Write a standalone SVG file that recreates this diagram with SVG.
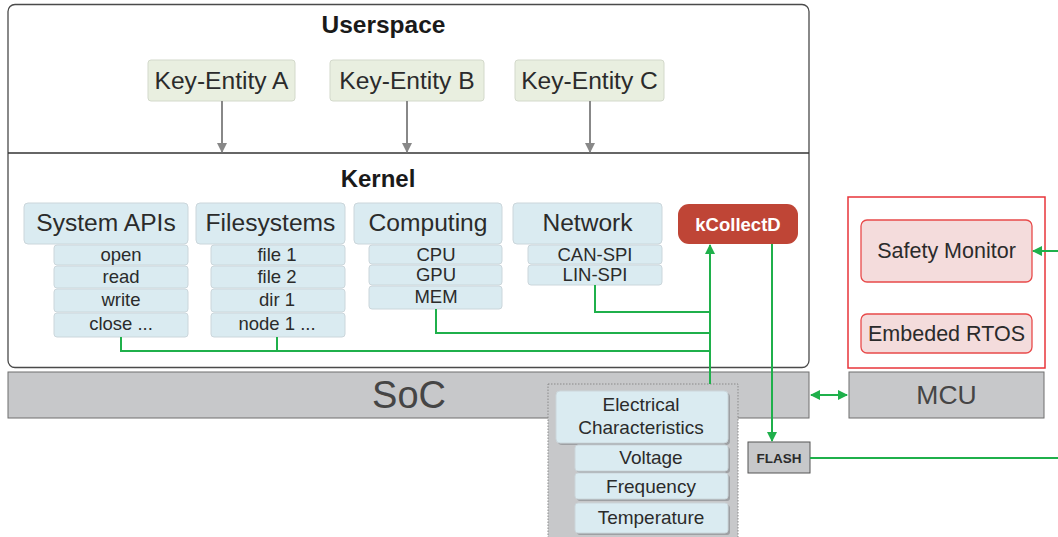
<svg xmlns="http://www.w3.org/2000/svg" width="1058" height="537" viewBox="0 0 1058 537">
<style>
text{font-family:"Liberation Sans",Arial,sans-serif;fill:#2b2b2b}
.ke{fill:#e9efe0;stroke:#d3d9cb;stroke-width:1}
.kb{fill:#daebf1;stroke:#cbd6db;stroke-width:1}
.hd{font-size:24.6px;text-anchor:middle}
.it{font-size:18.5px;text-anchor:middle}
.g{fill:none;stroke:#1fb04b;stroke-width:2}
.gr{fill:none;stroke:#888;stroke-width:2}
.gray{fill:#c7c8ca;stroke:#6f6f6f;stroke-width:1}
.ec{fill:#daebf1;stroke:#cbd6db;stroke-width:1}
.sh{fill:#9ea0a3}
.et{font-size:19px;text-anchor:middle}
</style>
<defs>
<marker id="ag" viewBox="0 0 10 10" refX="9" refY="5" markerWidth="5" markerHeight="5" orient="auto-start-reverse"><path d="M0,0L10,5L0,10z" fill="#1fb04b"/></marker>
<marker id="aw" viewBox="0 0 10 10" refX="9" refY="5" markerWidth="5" markerHeight="5" orient="auto"><path d="M0,0L10,5L0,10z" fill="#888"/></marker>
</defs>
<rect width="1058" height="537" fill="#fff"/>

<g id="os-box">
<rect x="8" y="4.5" width="801" height="363" rx="7" fill="#fff" stroke="#4a4a4a" stroke-width="1.3"/>
<line x1="8" y1="153" x2="809" y2="153" stroke="#333" stroke-width="1.5"/>
<text x="383.5" y="33" font-size="24.5" font-weight="bold" text-anchor="middle" style="fill:#1a1a1a">Userspace</text>
<text x="378" y="187" font-size="24" font-weight="bold" text-anchor="middle" style="fill:#1a1a1a">Kernel</text>
</g>

<g id="key-entity-a"><rect class="ke" x="148" y="60" width="147" height="41" rx="3"/><text class="hd" x="221.5" y="89" font-size="25">Key-Entity A</text></g>
<g id="key-entity-b"><rect class="ke" x="330" y="60" width="154" height="41" rx="3"/><text class="hd" x="407" y="89">Key-Entity B</text></g>
<g id="key-entity-c"><rect class="ke" x="515" y="60" width="149" height="41" rx="3"/><text class="hd" x="589.5" y="89">Key-Entity C</text></g>

<g id="system-apis">
<rect class="kb" x="24" y="203" width="164" height="41" rx="4"/><text class="hd" x="106" y="231">System APIs</text>
<rect class="kb" x="54" y="245" width="134" height="20" rx="3"/><text class="it" x="121" y="261">open</text>
<rect class="kb" x="54" y="266" width="134" height="22" rx="3"/><text class="it" x="121" y="283">read</text>
<rect class="kb" x="54" y="289" width="134" height="23" rx="3"/><text class="it" x="121" y="306">write</text>
<rect class="kb" x="54" y="313" width="134" height="24" rx="3"/><text class="it" x="121" y="330">close ...</text>
</g>
<g id="filesystems">
<rect class="kb" x="196" y="203" width="149" height="41" rx="4"/><text class="hd" x="270.5" y="231">Filesystems</text>
<rect class="kb" x="211" y="245" width="134" height="20" rx="3"/><text class="it" x="277" y="261">file 1</text>
<rect class="kb" x="211" y="266" width="134" height="22" rx="3"/><text class="it" x="277" y="283">file 2</text>
<rect class="kb" x="211" y="289" width="134" height="23" rx="3"/><text class="it" x="277" y="306">dir 1</text>
<rect class="kb" x="211" y="313" width="134" height="24" rx="3"/><text class="it" x="277" y="330">node 1 ...</text>
</g>
<g id="computing">
<rect class="kb" x="354" y="203" width="148" height="41" rx="4"/><text class="hd" x="428" y="231">Computing</text>
<rect class="kb" x="369" y="245" width="133" height="19" rx="3"/><text class="it" x="436" y="261">CPU</text>
<rect class="kb" x="369" y="265" width="133" height="20" rx="3"/><text class="it" x="436" y="281">GPU</text>
<rect class="kb" x="369" y="286" width="133" height="23" rx="3"/><text class="it" x="436" y="303">MEM</text>
</g>
<g id="network">
<rect class="kb" x="513" y="203" width="149" height="41" rx="4"/><text class="hd" x="587.5" y="231">Network</text>
<rect class="kb" x="528" y="245" width="134" height="19" rx="3"/><text class="it" x="595" y="261">CAN-SPI</text>
<rect class="kb" x="528" y="265" width="134" height="20" rx="3"/><text class="it" x="595" y="281">LIN-SPI</text>
</g>
<g id="kcollectd">
<rect x="678" y="204" width="120" height="40" rx="11" fill="#bf4536"/>
<text x="738" y="231" font-size="18.5" font-weight="bold" text-anchor="middle" style="fill:#fff">kCollectD</text>
</g>

<g id="soc">
<rect class="gray" x="8" y="372" width="801" height="46"/>
<text x="409" y="408" font-size="38" text-anchor="middle" style="fill:#454545">SoC</text>
</g>

<g id="electrical">
<rect x="548" y="384" width="190" height="160" fill="#c7c8ca" stroke="#8a8a8a" stroke-width="1" stroke-dasharray="1.5,1.5"/>
<rect class="sh" x="558" y="393" width="172" height="52" rx="4"/>
<rect class="ec" x="556" y="391" width="172" height="52" rx="4"/>
<text class="et" x="641" y="411">Electrical</text>
<text class="et" x="641" y="434">Characteristics</text>
<rect class="sh" x="577" y="447" width="153" height="26" rx="3"/>
<rect class="ec" x="575" y="445" width="153" height="26" rx="3"/>
<text class="et" x="651" y="464">Voltage</text>
<rect class="sh" x="577" y="475" width="153" height="26" rx="3"/>
<rect class="ec" x="575" y="473" width="153" height="26" rx="3"/>
<text class="et" x="651" y="493">Frequency</text>
<rect class="sh" x="577" y="505" width="153" height="30" rx="3"/>
<rect class="ec" x="575" y="503" width="153" height="30" rx="3"/>
<text class="et" x="651" y="524">Temperature</text>
</g>

<g id="flash">
<rect class="gray" x="748" y="442" width="62" height="31" style="stroke:#555"/>
<text x="779" y="462.5" font-size="13.5" font-weight="bold" text-anchor="middle">FLASH</text>
</g>

<g id="mcu-domain">
<rect x="848" y="197" width="197" height="171" fill="#fff" stroke="#e8343a" stroke-width="1.5"/>
</g>
<g id="safety-monitor">
<rect x="861" y="220" width="171" height="62" rx="6" fill="#f4dcdc" stroke="#e84a4a" stroke-width="1.3"/>
<text x="946.5" y="258" font-size="21.5" text-anchor="middle">Safety Monitor</text>
</g>
<g id="embeded-rtos">
<rect x="861" y="314" width="171" height="39" rx="6" fill="#f4dcdc" stroke="#e84a4a" stroke-width="1.3"/>
<text x="946.5" y="341" font-size="21.5" text-anchor="middle">Embeded RTOS</text>
</g>
<g id="mcu">
<rect class="gray" x="849" y="372" width="195" height="46"/>
<text x="946.5" y="404" font-size="26.5" text-anchor="middle" style="fill:#454545">MCU</text>
</g>

<g id="connectors">
<line class="gr" x1="222" y1="101" x2="222" y2="152" marker-end="url(#aw)"/>
<line class="gr" x1="407" y1="101" x2="407" y2="152" marker-end="url(#aw)"/>
<line class="gr" x1="590" y1="101" x2="590" y2="152" marker-end="url(#aw)"/>
<polyline class="g" points="121,337 121,351 710,351"/>
<line class="g" x1="277" y1="337" x2="277" y2="351"/>
<polyline class="g" points="436,309 436,333 710,333"/>
<polyline class="g" points="595,285 595,312 710,312"/>
<line class="g" x1="710" y1="384" x2="710" y2="245" marker-end="url(#ag)"/>
<line class="g" x1="772" y1="244" x2="772" y2="441" marker-end="url(#ag)"/>
<line class="g" x1="811" y1="395" x2="847" y2="395" marker-start="url(#ag)" marker-end="url(#ag)"/>
<line class="g" x1="810" y1="458" x2="1058" y2="458"/>
<line class="g" x1="1058" y1="251" x2="1033" y2="251" marker-end="url(#ag)"/>
</g>
</svg>
